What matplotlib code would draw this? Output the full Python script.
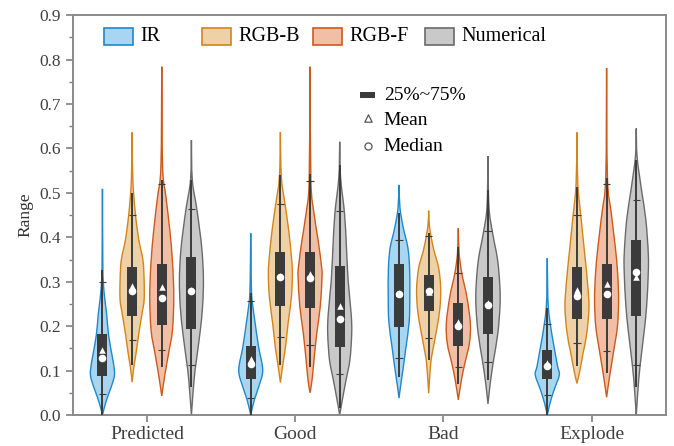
import numpy as np
import matplotlib
matplotlib.use('Agg')
from matplotlib import pyplot as plt
from matplotlib.path import Path
from matplotlib.patches import PathPatch, Rectangle

plt.rcParams['font.family'] = ['Liberation Serif', 'DejaVu Serif']
plt.rcParams['mathtext.fontset'] = 'stix'

categories = ['Predicted', 'Good', 'Bad', 'Explode']
series = ['IR', 'RGB-B', 'RGB-F', 'Numerical']

# rows: IR, RGB-B, RGB-F, Numerical ; columns: Predicted, Good, Bad, Explode
data_min = [[0.000, 0.000, 0.038, 0.000],
            [0.074, 0.073, 0.049, 0.071],
            [0.043, 0.050, 0.034, 0.040],
            [0.000, 0.000, 0.025, 0.000]]
data_max = [[0.509, 0.409, 0.518, 0.353],
            [0.636, 0.637, 0.460, 0.636],
            [0.784, 0.784, 0.420, 0.781],
            [0.619, 0.615, 0.583, 0.645]]
whisker_lo = [[0.000, 0.000, 0.086, 0.000],
              [0.113, 0.113, 0.124, 0.110],
              [0.107, 0.109, 0.069, 0.094],
              [0.064, 0.015, 0.078, 0.064]]
whisker_hi = [[0.326, 0.274, 0.454, 0.240],
              [0.499, 0.540, 0.409, 0.514],
              [0.530, 0.542, 0.379, 0.533],
              [0.529, 0.563, 0.506, 0.574]]
pct_lo = [[0.047, 0.039, 0.129, 0.045],
          [0.169, 0.176, 0.174, 0.161],
          [0.146, 0.158, 0.109, 0.145],
          [0.112, 0.092, 0.120, 0.112]]
pct_hi = [[0.300, 0.256, 0.394, 0.205],
          [0.450, 0.475, 0.403, 0.450],
          [0.519, 0.527, 0.320, 0.519],
          [0.464, 0.459, 0.414, 0.485]]
q1 = [[0.087, 0.080, 0.199, 0.080],
      [0.223, 0.246, 0.233, 0.215],
      [0.203, 0.241, 0.156, 0.215],
      [0.194, 0.154, 0.182, 0.223]]
q3 = [[0.182, 0.156, 0.339, 0.146],
      [0.334, 0.367, 0.315, 0.334],
      [0.340, 0.366, 0.251, 0.341],
      [0.355, 0.336, 0.310, 0.393]]
median = [[0.129, 0.114, 0.272, 0.110],
          [0.280, 0.311, 0.280, 0.268],
          [0.263, 0.308, 0.201, 0.273],
          [0.280, 0.215, 0.247, 0.323]]
mean = [[0.146, 0.125, 0.275, 0.118],
        [0.290, 0.314, 0.277, 0.281],
        [0.287, 0.317, 0.210, 0.295],
        [0.282, 0.245, 0.252, 0.310]]

# density outline of each violin: (value, relative width)
ir_shape = [
    [(0.0, 0), (0.025, 0.24), (0.05, 0.55), (0.08, 0.93), (0.10, 1.0), (0.137, 0.78),
     (0.182, 0.50), (0.227, 0.35), (0.26, 0.2), (0.30, 0.07), (0.35, 0.03), (0.509, 0)],
    [(0.0, 0), (0.034, 0.30), (0.064, 0.67), (0.101, 1.0), (0.154, 0.65), (0.214, 0.33),
     (0.25, 0.15), (0.274, 0.07), (0.33, 0.03), (0.409, 0)],
    [(0.038, 0), (0.069, 0.15), (0.106, 0.35), (0.151, 0.57), (0.211, 0.85), (0.271, 0.9),
     (0.331, 0.88), (0.376, 0.74), (0.421, 0.36), (0.466, 0.08), (0.518, 0)],
    [(0.0, 0), (0.026, 0.22), (0.056, 0.56), (0.09, 1.0), (0.109, 0.86), (0.154, 0.56),
     (0.199, 0.28), (0.244, 0.08), (0.29, 0.03), (0.353, 0)],
]
rgbb_shape = [
    [(0.074, 0), (0.109, 0.15), (0.139, 0.33), (0.184, 0.56), (0.229, 0.83), (0.259, 1.0),
     (0.304, 1.0), (0.349, 0.9), (0.394, 0.56), (0.454, 0.27), (0.53, 0.06), (0.636, 0)],
    [(0.073, 0), (0.109, 0.18), (0.154, 0.43), (0.206, 0.64), (0.266, 0.92), (0.319, 1.0),
     (0.356, 0.92), (0.416, 0.69), (0.476, 0.38), (0.536, 0.08), (0.637, 0)],
    [(0.049, 0), (0.116, 0.17), (0.151, 0.38), (0.196, 0.69), (0.241, 0.94), (0.286, 1.0),
     (0.331, 0.83), (0.376, 0.39), (0.424, 0.07), (0.46, 0)],
    [(0.071, 0), (0.101, 0.25), (0.139, 0.51), (0.184, 0.82), (0.244, 1.0), (0.304, 0.86),
     (0.364, 0.64), (0.439, 0.36), (0.521, 0.07), (0.636, 0)],
]
rgbf_shape = [
    [(0.043, 0), (0.094, 0.28), (0.139, 0.57), (0.191, 0.89), (0.266, 1.0), (0.341, 0.9),
     (0.416, 0.67), (0.491, 0.35), (0.56, 0.07), (0.784, 0)],
    [(0.05, 0), (0.079, 0.17), (0.124, 0.33), (0.184, 0.56), (0.244, 0.85), (0.312, 1.0),
     (0.334, 0.96), (0.394, 0.67), (0.454, 0.33), (0.529, 0.07), (0.784, 0)],
    [(0.034, 0), (0.079, 0.26), (0.116, 0.54), (0.161, 0.92), (0.206, 1.0), (0.266, 0.71),
     (0.319, 0.29), (0.364, 0.07), (0.42, 0)],
    [(0.04, 0), (0.087, 0.25), (0.139, 0.56), (0.199, 0.9), (0.259, 1.0), (0.319, 0.92),
     (0.379, 0.72), (0.454, 0.39), (0.536, 0.07), (0.781, 0)],
]
num_shape = [
    [(0.0, 0), (0.079, 0.22), (0.124, 0.42), (0.184, 0.71), (0.244, 0.93), (0.304, 1.0),
     (0.364, 0.9), (0.416, 0.69), (0.469, 0.42), (0.53, 0.07), (0.619, 0)],
    [(0.0, 0), (0.034, 0.22), (0.079, 0.53), (0.124, 0.85), (0.184, 1.0), (0.229, 0.95),
     (0.304, 0.7), (0.379, 0.56), (0.454, 0.4), (0.536, 0.07), (0.615, 0)],
    [(0.025, 0), (0.072, 0.19), (0.124, 0.47), (0.184, 0.82), (0.244, 1.0), (0.289, 0.99),
     (0.349, 0.8), (0.409, 0.39), (0.469, 0.08), (0.583, 0)],
    [(0.0, 0), (0.056, 0.14), (0.109, 0.31), (0.184, 0.64), (0.244, 0.86), (0.319, 1.0),
     (0.364, 1.0), (0.439, 0.8), (0.506, 0.44), (0.581, 0.07), (0.645, 0)],
]
shapes = [ir_shape, rgbb_shape, rgbf_shape, num_shape]

fills = ['#a8d5f0', '#efd1a6', '#f0bfa5', '#c9c9c9']
edges = ['#1f88cc', '#d4841c', '#cc5a1c', '#6a6a6a']
offsets = [-0.3, -0.1, 0.1, 0.3]
half_width = 0.081
box_w = 0.068
dark = '#3b3b3b'


def bezier_side(pts):
    # Catmull-Rom through the outline points, written as cubic bezier segments
    verts = []
    n = len(pts)
    for i in range(n - 1):
        p0 = np.array(pts[max(i - 1, 0)])
        p1 = np.array(pts[i])
        p2 = np.array(pts[i + 1])
        p3 = np.array(pts[min(i + 2, n - 1)])
        c1 = p1 + (p2 - p0) / 6.0
        c2 = p2 - (p3 - p1) / 6.0
        c1[0] = max(c1[0], 0)
        c2[0] = max(c2[0], 0)
        verts += [tuple(c1), tuple(c2), tuple(p2)]
    return verts


def violin_path(xc, shape):
    right = [(w * half_width, v) for v, w in shape]
    up = bezier_side(right)
    down = bezier_side(right[::-1])
    verts = [(xc + right[0][0], right[0][1])]
    verts += [(xc + dx, v) for dx, v in up]
    verts += [(xc - dx, v) for dx, v in down]
    verts.append(verts[0])
    codes = [Path.MOVETO] + [Path.CURVE4] * (len(up) + len(down)) + [Path.CLOSEPOLY]
    return Path(verts, codes)


fig = plt.figure(figsize=(6.74, 4.46), dpi=100)
ax = fig.add_axes([0.108, 0.0695, 0.88, 0.8965])

for s in range(len(series)):
    for c in range(len(categories)):
        xc = c + offsets[s]
        ax.add_patch(PathPatch(violin_path(xc, shapes[s][c]), facecolor=fills[s],
                               edgecolor=edges[s], lw=1.0, zorder=2))
        ax.vlines(xc, whisker_lo[s][c], whisker_hi[s][c], color=dark, lw=1.4, zorder=3)
        ax.hlines([pct_lo[s][c], pct_hi[s][c]], xc - 0.024, xc + 0.024, color=dark,
                  lw=0.8, zorder=3)
        ax.add_patch(Rectangle((xc - box_w / 2, q1[s][c]), box_w, q3[s][c] - q1[s][c],
                               facecolor=dark, edgecolor='none', zorder=4))
        ax.scatter(xc, mean[s][c], marker='^', s=22, color='white', lw=0, zorder=5)
        ax.scatter(xc, median[s][c], marker='o', s=30, color='white', lw=0, zorder=6)

ax.set_xlim(-0.5, 3.5)
ax.set_ylim(0, 0.9)
ax.set_xticks(range(len(categories)))
ax.set_xticklabels(categories, fontsize=14)
ax.set_yticks(np.arange(0, 0.91, 0.1))
ax.set_yticks(np.arange(0.05, 0.9, 0.1), minor=True)
ax.yaxis.set_major_formatter(plt.FormatStrFormatter('%.1f'))
ax.set_ylabel('Range', fontsize=12.5, color='#333333')
ax.tick_params(axis='both', which='major', direction='out', length=5, width=1.2,
               color='#808080', labelcolor='#404040', labelsize=12.5)
ax.tick_params(axis='x', labelsize=14, pad=3)
ax.tick_params(axis='y', which='minor', direction='out', length=3, width=1.0, color='#808080')
for sp in ax.spines.values():
    sp.set_color('#8a8a8a')
    sp.set_linewidth(1.4)

# series legend along the top
leg_x = [0.052, 0.2175, 0.4047, 0.5936]
for s in range(len(series)):
    ax.add_patch(Rectangle((leg_x[s], 0.925), 0.049, 0.0425, transform=ax.transAxes,
                           facecolor=fills[s], edgecolor=edges[s], lw=1.2, zorder=7))
    ax.text(leg_x[s] + 0.062, 0.946, series[s], transform=ax.transAxes, fontsize=14.5,
            va='center', ha='left', zorder=7)

# box / marker legend
ax.add_patch(Rectangle((0.484, 0.7925), 0.026, 0.015, transform=ax.transAxes,
                       facecolor=dark, edgecolor='none', zorder=7))
ax.text(0.5245, 0.80, '25%~75%', transform=ax.transAxes, fontsize=14, va='center')
ax.scatter([0.497], [0.7425], marker='^', s=28, facecolor='white', edgecolor='#555555',
           lw=0.9, transform=ax.transAxes, zorder=7)
ax.text(0.5245, 0.7375, 'Mean', transform=ax.transAxes, fontsize=14, va='center')
ax.scatter([0.497], [0.673], marker='o', s=26, facecolor='white', edgecolor='#555555',
           lw=0.9, transform=ax.transAxes, zorder=7)
ax.text(0.5245, 0.671, 'Median', transform=ax.transAxes, fontsize=14, va='center')

fig.savefig('out.png', dpi=100)
